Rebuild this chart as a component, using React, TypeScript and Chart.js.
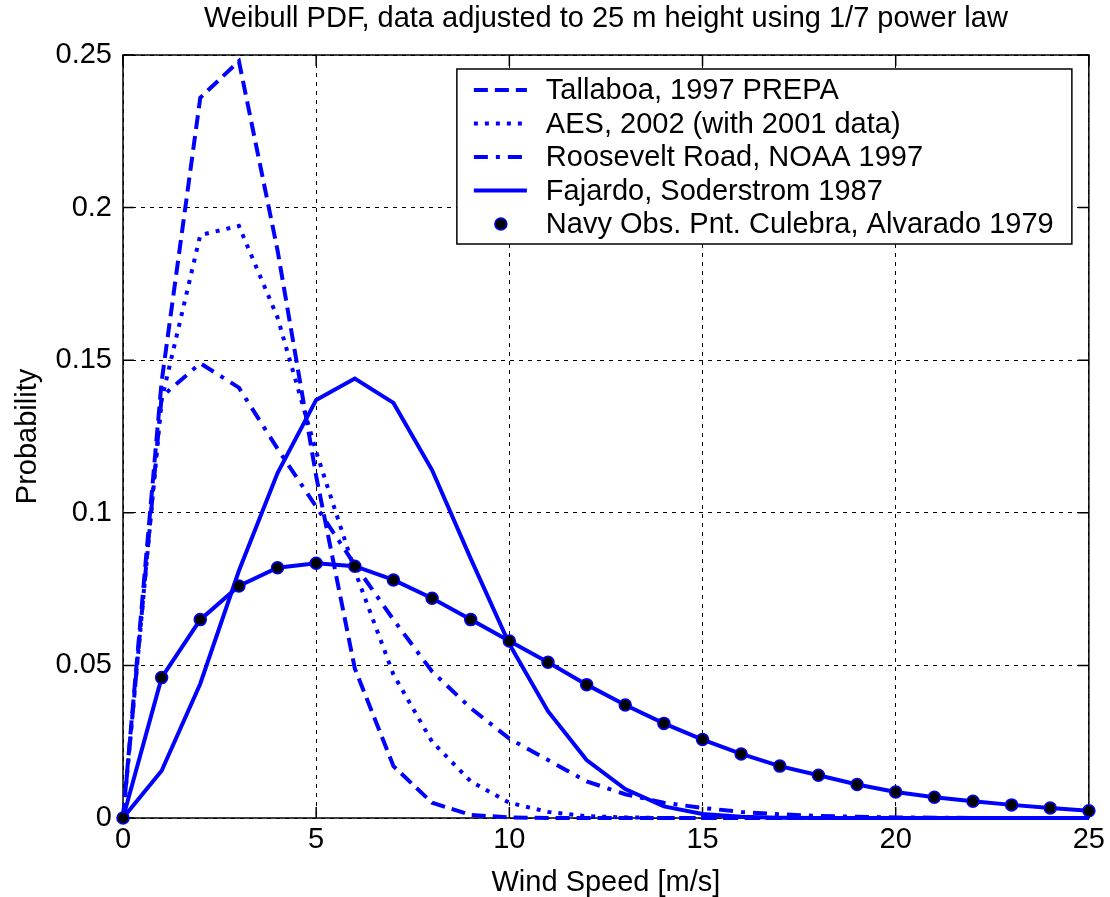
import React, { useEffect, useRef } from "react";
import { Chart, registerables } from "chart.js";

Chart.register(...registerables);

// ---- data ----
const windSpeed = [0, 1, 2, 3, 4, 5, 6, 7, 8, 9, 10, 11, 12, 13, 14, 15, 16, 17, 18, 19, 20, 21, 22, 23, 24, 25];

const tallaboa = [0, 0.143, 0.236, 0.248, 0.186, 0.112, 0.049, 0.017, 0.005, 0.001, 0.0002, 0, 0, 0, 0, 0, 0, 0, 0, 0, 0, 0, 0, 0, 0, 0];
const aes = [0, 0.137, 0.191, 0.194, 0.164, 0.12, 0.081, 0.047, 0.025, 0.012, 0.005, 0.002, 0.0006, 0.0002, 0, 0, 0, 0, 0, 0, 0, 0, 0, 0, 0, 0];
const roosevelt = [0, 0.138, 0.149, 0.141, 0.121, 0.102, 0.083, 0.065, 0.048, 0.036, 0.026, 0.019, 0.012, 0.0078, 0.005, 0.0033, 0.002, 0.0012, 0.0007, 0.0004, 0.0002, 0.0001, 0, 0, 0, 0];
const fajardo = [0, 0.0155, 0.044, 0.081, 0.113, 0.137, 0.144, 0.136, 0.114, 0.085, 0.057, 0.035, 0.019, 0.0095, 0.0038, 0.0013, 0.0004, 0.0001, 0, 0, 0, 0, 0, 0, 0, 0];
const navy = [0, 0.046, 0.065, 0.076, 0.082, 0.0835, 0.0825, 0.078, 0.072, 0.065, 0.058, 0.051, 0.0437, 0.037, 0.031, 0.0257, 0.021, 0.017, 0.014, 0.011, 0.0085, 0.0068, 0.0055, 0.0043, 0.0033, 0.0024];

const seriesLabels = [
  "Tallaboa, 1997 PREPA",
  "AES, 2002 (with 2001 data)",
  "Roosevelt Road, NOAA 1997",
  "Fajardo, Soderstrom 1987",
  "Navy Obs. Pnt. Culebra, Alvarado 1979",
];

const xTickValues = [0, 5, 10, 15, 20, 25];
const xTickLabels = ["0", "5", "10", "15", "20", "25"];
const yTickValues = [0, 0.05, 0.1, 0.15, 0.2, 0.25];
const yTickLabels = ["0", "0.05", "0.1", "0.15", "0.2", "0.25"];

const chartTitle = "Weibull PDF, data adjusted to 25 m height using 1/7 power law";
const xTitle = "Wind Speed [m/s]";
const yTitle = "Probability";

const FONT = '"Liberation Sans", Arial, Helvetica, sans-serif';
const BLUE = "#0000ff";
const DASHES: number[][] = [[14, 7], [4, 7], [14, 8, 4, 8], [], []];

export default function App() {
  const ref = useRef<HTMLCanvasElement>(null);

  useEffect(() => {
    if (!ref.current) return;

    const framePlugin = {
      id: "frame",
      beforeDatasetsDraw(chart: any) {
        const { ctx, chartArea: a, scales } = chart;
        ctx.save();
        ctx.strokeStyle = "#000";
        ctx.lineWidth = 1.5;
        ctx.setLineDash([]);
        ctx.strokeRect(a.left, a.top, a.right - a.left, a.bottom - a.top);
        const L = 11;
        ctx.beginPath();
        xTickValues.forEach((v) => {
          const px = scales.x.getPixelForValue(v);
          ctx.moveTo(px, a.bottom);
          ctx.lineTo(px, a.bottom - L);
          ctx.moveTo(px, a.top);
          ctx.lineTo(px, a.top + L);
        });
        yTickValues.forEach((v) => {
          const py = scales.y.getPixelForValue(v);
          ctx.moveTo(a.left, py);
          ctx.lineTo(a.left + L, py);
          ctx.moveTo(a.right, py);
          ctx.lineTo(a.right - L, py);
        });
        ctx.stroke();
        ctx.restore();
      },
    };

    const overlayPlugin = {
      id: "overlay",
      afterDraw(chart: any) {
        const { ctx, chartArea: a } = chart;
        ctx.save();
        // title
        ctx.fillStyle = "#000";
        ctx.font = `29px ${FONT}`;
        ctx.textAlign = "center";
        ctx.textBaseline = "middle";
        ctx.fillText(chartTitle, (a.left + a.right) / 2, 19);

        // legend
        const right = a.right - 17;
        const top = a.top + 14;
        const left = right - 615;
        const h = 175;
        ctx.fillStyle = "#fff";
        ctx.fillRect(left, top, right - left, h);
        ctx.strokeStyle = "#000";
        ctx.lineWidth = 1.5;
        ctx.setLineDash([]);
        ctx.strokeRect(left, top, right - left, h);
        const rows = [21, 54.5, 88, 121.5, 155];
        seriesLabels.forEach((label, i) => {
          const y = top + rows[i];
          if (i < 4) {
            ctx.strokeStyle = BLUE;
            ctx.lineWidth = 4;
            ctx.setLineDash(DASHES[i]);
            ctx.beginPath();
            ctx.moveTo(left + 17, y);
            ctx.lineTo(left + 70, y);
            ctx.stroke();
          } else {
            ctx.setLineDash([]);
            ctx.beginPath();
            ctx.arc(left + 44, y, 6, 0, Math.PI * 2);
            ctx.fillStyle = "#000";
            ctx.fill();
            ctx.strokeStyle = BLUE;
            ctx.lineWidth = 1.5;
            ctx.stroke();
          }
          ctx.fillStyle = "#000";
          ctx.font = `29px ${FONT}`;
          ctx.textAlign = "left";
          ctx.textBaseline = "middle";
          ctx.fillText(label, left + 89, y + 1);
        });
        ctx.restore();
      },
    };

    const lineDs = (data: number[], i: number) => ({
      label: seriesLabels[i],
      data: windSpeed.map((x, k) => ({ x, y: data[k] })),
      borderColor: BLUE,
      backgroundColor: BLUE,
      borderWidth: 4,
      borderDash: DASHES[i],
      pointRadius: 0,
      tension: 0,
      fill: false,
      clip: false as const,
      order: 5 - i,
    });

    const chart = new Chart(ref.current, {
      type: "line",
      data: {
        datasets: [
          lineDs(tallaboa, 0),
          lineDs(aes, 1),
          lineDs(roosevelt, 2),
          lineDs(fajardo, 3),
          {
            label: seriesLabels[4],
            data: windSpeed.map((x, k) => ({ x, y: navy[k] })),
            borderColor: BLUE,
            backgroundColor: "#000",
            borderWidth: 4,
            pointRadius: 6,
            pointBackgroundColor: "#000",
            pointBorderColor: BLUE,
            pointBorderWidth: 1.5,
            tension: 0,
            fill: false,
            clip: false as const,
            order: 0,
          },
        ],
      },
      options: {
        responsive: false,
        animation: false,
        devicePixelRatio: 1,
        layout: { padding: { top: 55, right: 17, bottom: 0, left: 0 } },
        plugins: {
          legend: { display: false },
          title: { display: false },
          tooltip: { enabled: false },
        },
        scales: {
          x: {
            type: "linear",
            min: 0,
            max: 25,
            afterBuildTicks: (s: any) => {
              s.ticks = xTickValues.map((v) => ({ value: v }));
            },
            afterFit: (s: any) => {
              s.height = 79;
            },
            ticks: {
              autoSkip: false,
              maxRotation: 0,
              padding: 5,
              color: "#000",
              font: { family: FONT, size: 29 },
              callback: (v: any) => {
                const i = xTickValues.indexOf(Number(v));
                return i >= 0 ? xTickLabels[i] : "";
              },
            },
            grid: { color: "#000", lineWidth: 1, drawTicks: false },
            border: { display: false, dash: [4, 5] },
            title: {
              display: true,
              text: xTitle,
              color: "#000",
              font: { family: FONT, size: 29, lineHeight: 1 },
              padding: { top: 0, bottom: 0 },
            },
          },
          y: {
            type: "linear",
            min: 0,
            max: 0.25,
            afterBuildTicks: (s: any) => {
              s.ticks = yTickValues.map((v) => ({ value: v }));
            },
            afterFit: (s: any) => {
              s.width = 123;
            },
            ticks: {
              autoSkip: false,
              padding: 11,
              color: "#000",
              font: { family: FONT, size: 29 },
              callback: (v: any) => {
                const i = yTickValues.findIndex((t) => Math.abs(t - Number(v)) < 1e-9);
                return i >= 0 ? yTickLabels[i] : "";
              },
            },
            grid: { color: "#000", lineWidth: 1, drawTicks: false },
            border: { display: false, dash: [4, 5] },
            title: {
              display: true,
              text: yTitle,
              color: "#000",
              font: { family: FONT, size: 29, lineHeight: 1 },
              padding: { top: 13, bottom: 0 },
            },
          },
        },
      },
      plugins: [framePlugin, overlayPlugin],
    });

    return () => chart.destroy();
  }, []);

  return (
    <div style={{ position: "absolute", left: 0, top: 0, width: 1110, height: 897, background: "#fff" }}>
      <canvas ref={ref} width={1110} height={897} style={{ display: "block", width: 1110, height: 897 }} />
    </div>
  );
}
